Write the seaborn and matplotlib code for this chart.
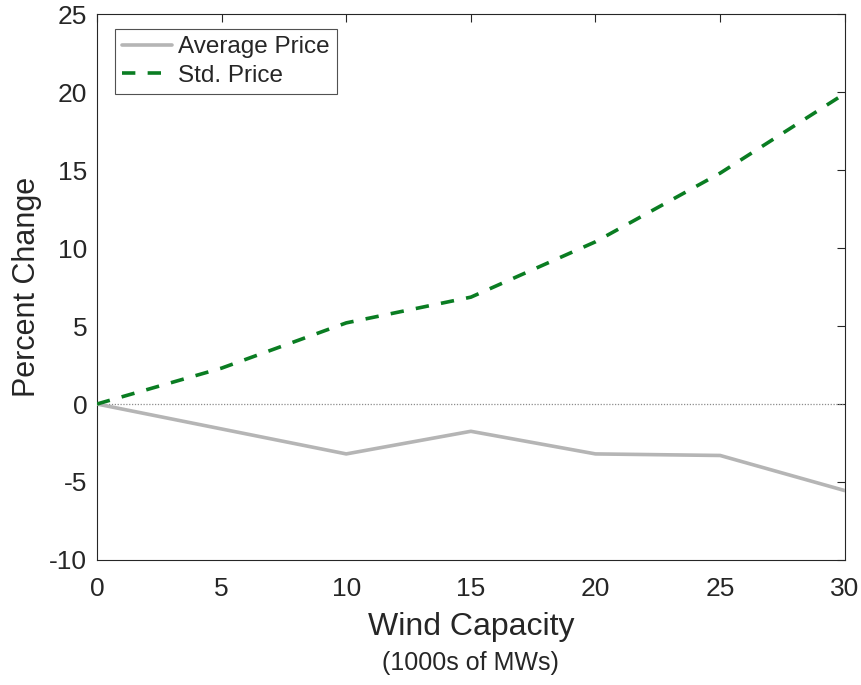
import matplotlib
matplotlib.use("Agg")
import matplotlib.pyplot as plt
import seaborn as sns
import pandas as pd

# Wind capacity (1000s of MWs) and percent change in prices
capacity = [0, 5, 10, 15, 20, 25, 30]
avg_price = [0.0, -1.6, -3.2, -1.75, -3.2, -3.3, -5.55]
std_price = [0.0, 2.3, 5.2, 6.85, 10.4, 14.8, 19.9]

x_ticks = [0, 5, 10, 15, 20, 25, 30]
y_ticks = [-10, -5, 0, 5, 10, 15, 20, 25]

sns.set_style("white")
plt.rcParams["font.family"] = ["Liberation Sans", "DejaVu Sans"]
text_color = "#262626"
plt.rcParams["text.color"] = text_color
plt.rcParams["axes.labelcolor"] = text_color
plt.rcParams["xtick.color"] = text_color
plt.rcParams["ytick.color"] = text_color

df = pd.DataFrame({"capacity": capacity, "avg": avg_price, "std": std_price})

fig = plt.figure(figsize=(8.62, 6.85), dpi=100)
ax = fig.add_axes([0.1125, 0.1825, 0.8675, 0.797])

# zero reference line
ax.axhline(0, color="#8c8c8c", lw=0.9, ls=(0, (1, 1.3)), zorder=1)

sns.lineplot(data=df, x="capacity", y="avg", ax=ax, color="#b5b5b5",
             lw=2.6, label="Average Price", zorder=3)
sns.lineplot(data=df, x="capacity", y="std", ax=ax, color="#0a7d22",
             lw=2.6, dashes=False, label="Std. Price", zorder=3)
ax.lines[-1].set_linestyle((0, (3.7, 3.4)))

ax.set_xlim(0, 30)
ax.set_ylim(-10, 25)
ax.set_xticks(x_ticks)
ax.set_yticks(y_ticks)
ax.set_xticklabels([str(v) for v in x_ticks])
ax.set_yticklabels([str(v) for v in y_ticks])
ax.tick_params(axis="both", which="both", direction="in", length=6, width=0.8,
               top=True, right=True, labelsize=19)
ax.tick_params(axis="x", pad=12.5)
ax.tick_params(axis="y", pad=7)

for s in ax.spines.values():
    s.set_visible(True)
    s.set_color("#262626")
    s.set_linewidth(0.8)

ax.set_ylabel("Percent Change", fontsize=22, va="center")
ax.yaxis.set_label_coords(-0.0936, 0.5)
ax.set_xlabel("Wind Capacity", fontsize=23, va="center")
ax.xaxis.set_label_coords(0.5, -0.1227)
ax.text(0.5, -0.1886, "(1000s of MWs)", transform=ax.transAxes,
        ha="center", va="center", fontsize=18, color=text_color)

leg = ax.legend(loc="upper left", bbox_to_anchor=(0.0241, 0.973), fontsize=17.5,
                frameon=True, fancybox=False, handlelength=2.05,
                handletextpad=0.25, borderpad=0.3, labelspacing=0.28,
                borderaxespad=0)
leg.get_frame().set_edgecolor("#262626")
leg.get_frame().set_linewidth(0.8)
leg.get_lines()[1].set_linestyle((0, (3.7, 3.4)))

fig.savefig("out.png", dpi=100)
